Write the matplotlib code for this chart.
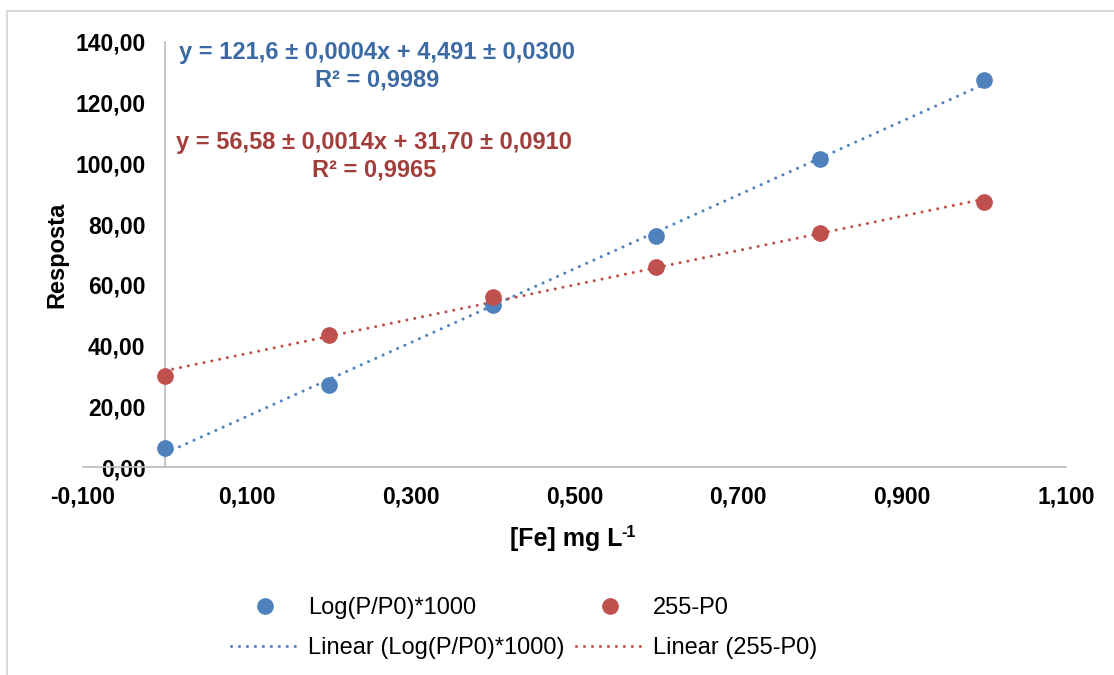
import matplotlib.pyplot as plt
from matplotlib.lines import Line2D
from matplotlib.patches import Rectangle
from matplotlib.ticker import FuncFormatter
import numpy as np

plt.rcParams['font.family'] = ['Liberation Sans', 'DejaVu Sans']

# Calibration data
conc = [0.0, 0.2, 0.4, 0.6, 0.8, 1.0]
log_resp = [6.2, 27.0, 53.5, 76.0, 101.5, 127.5]
p0_resp = [30.0, 43.5, 56.0, 66.0, 77.0, 87.3]

# Trendline coefficients (slope, intercept) and labels
log_fit = (121.6, 4.491)
p0_fit = (56.58, 31.70)
log_eq = "y = 121,6 ± 0,0004x + 4,491 ± 0,0300"
log_r2 = "R² = 0,9989"
p0_eq = "y = 56,58 ± 0,0014x + 31,70 ± 0,0910"
p0_r2 = "R² = 0,9965"

x_ticks = [-0.1, 0.1, 0.3, 0.5, 0.7, 0.9, 1.1]
y_ticks = [0, 20, 40, 60, 80, 100, 120, 140]

BLUE = '#4F81BD'
RED = '#C0504D'
BLUE_TXT = '#3C6AA4'
RED_TXT = '#A13E3B'
GRID = '#BFBFBF'

W, H = 1114, 675
fig = plt.figure(figsize=(W / 100, H / 100), dpi=100)

# chart border
fig.patches.append(Rectangle((7 / W, -0.1), 1.2, 1 - 11 / H + 0.1,
                             transform=fig.transFigure, fill=False,
                             edgecolor='#D9D9D9', lw=1.5))

ax = fig.add_axes([83 / W, 1 - 467 / H, (1066 - 83) / W, (467 - 42) / H])
ax.set_xlim(-0.1, 1.1)
ax.set_ylim(0, 140)

dots = dict(linestyle=(0, (0.01, 2.6)), dash_capstyle='round', lw=2.2)
xs = np.array([conc[0], conc[-1]])
ax.plot(xs, log_fit[0] * xs + log_fit[1], color=BLUE, **dots, zorder=2)
ax.plot(xs, p0_fit[0] * xs + p0_fit[1], color=RED, **dots, zorder=2)
ax.plot(conc, log_resp, 'o', color=BLUE, ms=11, zorder=3)
ax.plot(conc, p0_resp, 'o', color=RED, ms=11, zorder=3)

for s in ['top', 'right']:
    ax.spines[s].set_visible(False)
ax.spines['left'].set_position(('data', 0))
for s in ['left', 'bottom']:
    ax.spines[s].set_color(GRID)
    ax.spines[s].set_linewidth(1.3)

ax.set_xticks(x_ticks)
ax.set_yticks(y_ticks)
ax.xaxis.set_major_formatter(FuncFormatter(lambda v, p: f"{v:.3f}".replace('.', ',')))
ax.yaxis.set_major_formatter(FuncFormatter(lambda v, p: f"{v:.2f}".replace('.', ',')))
ax.tick_params(axis='x', length=0, pad=13, labelsize=16.5)
ax.tick_params(axis='y', length=0, pad=14, labelsize=16.5)
for lab in ax.get_xticklabels() + ax.get_yticklabels():
    lab.set_fontweight('bold')

# x label with a hyphen superscript
xl = fig.text(566 / W, 1 - 546 / H, "[Fe] mg L", fontsize=18, fontweight='bold',
              ha='center', va='baseline')
fig.canvas.draw()
bb = xl.get_window_extent()
fig.text(bb.x1 - 1, H - 537, "-1", fontsize=11.5, fontweight='bold',
         ha='left', va='baseline', transform=None)

fig.text(57 / W, 1 - 255 / H, "Resposta", rotation=90, ha='center', va='center',
         fontsize=17, fontweight='bold')

# trendline equations
fig.text(377 / W, 1 - 52 / H, log_eq, color=BLUE_TXT, fontsize=17,
         fontweight='bold', ha='center', va='center')
fig.text(377 / W, 1 - 80 / H, log_r2, color=BLUE_TXT, fontsize=17,
         fontweight='bold', ha='center', va='center')
fig.text(374 / W, 1 - 143 / H, p0_eq, color=RED_TXT, fontsize=17,
         fontweight='bold', ha='center', va='center')
fig.text(374 / W, 1 - 170 / H, p0_r2, color=RED_TXT, fontsize=17,
         fontweight='bold', ha='center', va='center')

handles = [
    Line2D([], [], marker='o', ls='none', color=BLUE, ms=11),
    Line2D([], [], color=BLUE, **dots),
    Line2D([], [], marker='o', ls='none', color=RED, ms=11),
    Line2D([], [], color=RED, **dots),
]
labels = ["Log(P/P0)*1000", "Linear (Log(P/P0)*1000)", "255-P0", "Linear (255-P0)"]
fig.legend(handles, labels, ncol=2, loc='center',
           bbox_to_anchor=(524 / W, 1 - 628 / H), frameon=False, fontsize=17,
           handlelength=2.9, handletextpad=0.35, columnspacing=0.5,
           labelspacing=0.75)

fig.savefig('out.png', dpi=100)
